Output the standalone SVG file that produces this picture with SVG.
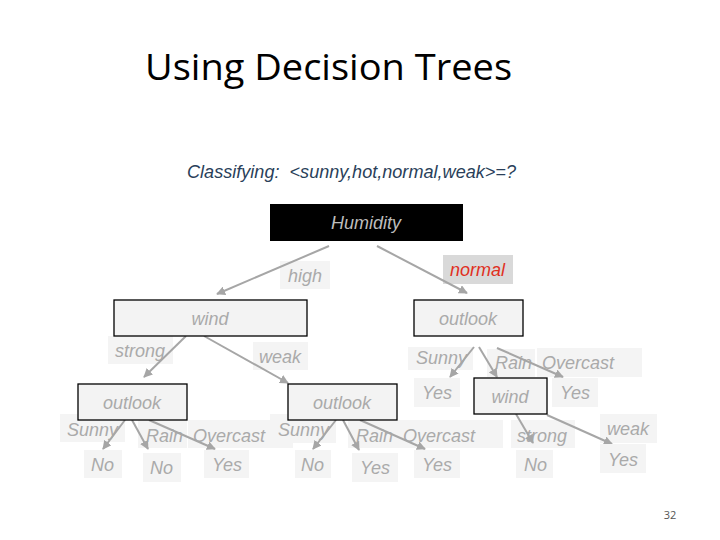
<svg xmlns="http://www.w3.org/2000/svg" width="720" height="540" viewBox="0 0 720 540">
<defs>
<marker id="ah" viewBox="0 0 10 10" refX="9" refY="5" markerWidth="4.5" markerHeight="4.5" orient="auto" markerUnits="strokeWidth">
<path d="M0,0 L10,5 L0,10 z" fill="#a6a6a6"/>
</marker>
</defs>
<style>
.t{font-family:"Liberation Sans",Arial,sans-serif;font-style:italic;font-size:18px;fill:#aaaaaa}
.lb{fill:#f4f4f4}
.nb{fill:#f3f3f3;stroke:#000;stroke-width:1.3}
.e{stroke:#a6a6a6;stroke-width:2;fill:none;marker-end:url(#ah)}
</style>
<rect width="720" height="540" fill="#fff"/>
<text x="145" y="80" font-family="'Open Sans','Noto Sans',sans-serif" font-size="36" fill="#000" textLength="367" lengthAdjust="spacingAndGlyphs">Using Decision Trees</text>
<text x="187" y="178" font-family="'Liberation Sans',Arial,sans-serif" font-style="italic" font-size="18" fill="#2a3f5a" textLength="329" lengthAdjust="spacingAndGlyphs" style="white-space:pre" xml:space="preserve">Classifying:  &lt;sunny,hot,normal,weak&gt;=?</text>

<g id="labels">
<rect class="lb" x="280" y="261" width="50" height="28"/><text class="t" x="288" y="282">high</text>
<rect x="443" y="255" width="70" height="29" fill="#d9d9d9"/><text x="450" y="276" font-family="'Liberation Sans',Arial,sans-serif" font-style="italic" font-size="18" fill="#e0301e">normal</text>
<rect class="lb" x="108" y="336" width="65" height="28"/><text class="t" x="115" y="357">strong</text>
<rect class="lb" x="253" y="342" width="55" height="28"/><text class="t" x="259" y="363">weak</text>
<rect class="lb" x="60" y="414" width="65" height="28"/><text class="t" x="67" y="436">Sunny</text>
<rect class="lb" x="138" y="420" width="49" height="28"/><text class="t" x="146" y="442">Rain</text>
<rect class="lb" x="188" y="420" width="105" height="28"/><text class="t" x="193" y="442">Overcast</text>
<rect class="lb" x="270" y="414" width="66" height="29"/><text class="t" x="278" y="436">Sunny</text>
<rect class="lb" x="348" y="421" width="49" height="27"/><text class="t" x="356" y="442">Rain</text>
<rect class="lb" x="397" y="420" width="106" height="28"/><text class="t" x="403" y="442">Overcast</text>
<rect class="lb" x="408" y="347" width="65" height="23"/><text class="t" x="416" y="364">Sunny</text>
<rect class="lb" x="487" y="349" width="48" height="28"/><text class="t" x="495" y="369">Rain</text>
<rect class="lb" x="537" y="348" width="105" height="29"/><text class="t" x="542" y="369">Overcast</text>
<rect class="lb" x="511" y="420" width="64" height="28"/><text class="t" x="517" y="442">strong</text>
<rect class="lb" x="600" y="414" width="57" height="29"/><text class="t" x="607" y="435">weak</text>
</g>

<g id="connectors">
<line class="e" x1="329" y1="246" x2="217" y2="294"/>
<line class="e" x1="377" y1="246" x2="467" y2="293"/>
<line class="e" x1="186" y1="336" x2="144" y2="377"/>
<line class="e" x1="204" y1="336" x2="288" y2="383"/>
<line class="e" x1="125" y1="420" x2="103" y2="449"/>
<line class="e" x1="132" y1="420" x2="148" y2="449"/>
<line class="e" x1="149" y1="420" x2="215" y2="449"/>
<line class="e" x1="336" y1="420" x2="313" y2="449"/>
<line class="e" x1="343" y1="420" x2="359" y2="450"/>
<line class="e" x1="360" y1="420" x2="425" y2="449"/>
<line class="e" x1="474" y1="347" x2="450" y2="377"/>
<line class="e" x1="479" y1="347" x2="497" y2="377"/>
<line class="e" x1="497" y1="348" x2="563" y2="377"/>
<line class="e" x1="516" y1="414" x2="533" y2="443"/>
<line class="e" x1="547" y1="415" x2="612" y2="444"/>
</g>

<g id="humidity"><rect x="270" y="204" width="193" height="37" fill="#000"/><text class="t" x="366" y="229" text-anchor="middle" style="fill:#bdbdbd">Humidity</text></g>
<g id="wind1"><rect class="nb" x="114" y="300" width="193" height="36"/><text class="t" x="210" y="325" text-anchor="middle">wind</text></g>
<g id="outlook1"><rect class="nb" x="414" y="300" width="109" height="36"/><text class="t" x="468" y="325" text-anchor="middle">outlook</text></g>
<g id="outlook2"><rect class="nb" x="78" y="384" width="109" height="36"/><text class="t" x="132" y="409" text-anchor="middle">outlook</text></g>
<g id="outlook3"><rect class="nb" x="288" y="384" width="109" height="36"/><text class="t" x="342" y="409" text-anchor="middle">outlook</text></g>
<g id="wind2"><rect class="nb" x="474" y="378" width="73" height="36"/><text class="t" x="510" y="403" text-anchor="middle">wind</text></g>

<g id="leaf1"><rect class="lb" x="84" y="450" width="38" height="28"/><text class="t" x="91" y="471">No</text></g>
<g id="leaf2"><rect class="lb" x="143" y="453" width="38" height="29"/><text class="t" x="150" y="474">No</text></g>
<g id="leaf3"><rect class="lb" x="204" y="450" width="45" height="28"/><text class="t" x="212" y="471">Yes</text></g>
<g id="leaf4"><rect class="lb" x="295" y="450" width="36" height="28"/><text class="t" x="301" y="471">No</text></g>
<g id="leaf5"><rect class="lb" x="352" y="453" width="46" height="29"/><text class="t" x="360" y="474">Yes</text></g>
<g id="leaf6"><rect class="lb" x="414" y="450" width="46" height="28"/><text class="t" x="422" y="471">Yes</text></g>
<g id="leaf7"><rect class="lb" x="414" y="378" width="46" height="29"/><text class="t" x="422" y="399">Yes</text></g>
<g id="leaf8"><rect class="lb" x="552" y="378" width="46" height="29"/><text class="t" x="560" y="399">Yes</text></g>
<g id="leaf9"><rect class="lb" x="516" y="450" width="37" height="28"/><text class="t" x="524" y="471">No</text></g>
<g id="leaf10"><rect class="lb" x="600" y="444" width="46" height="29"/><text class="t" x="608" y="466">Yes</text></g>

<text x="670" y="519" text-anchor="middle" font-family="'Open Sans','Noto Sans',sans-serif" font-size="11" fill="#555">32</text>
</svg>
